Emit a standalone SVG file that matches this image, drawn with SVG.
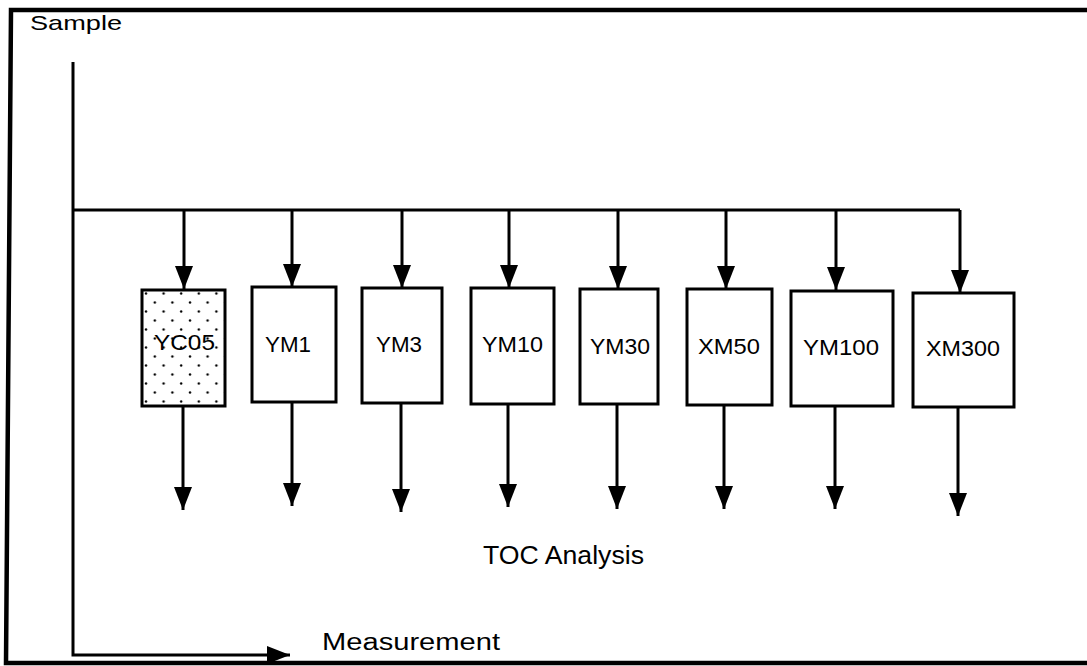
<svg xmlns="http://www.w3.org/2000/svg" width="1087" height="666" viewBox="0 0 1087 666">
<style>
.frame{fill:none;stroke:#000;stroke-width:4.5}
.box{fill:#fff;stroke:#000;stroke-width:3}
.ln{fill:none;stroke:#000;stroke-width:3}
.lbl{font-family:"Liberation Sans",Arial,sans-serif;font-size:22px;fill:#000;text-anchor:middle}
.big{font-family:"Liberation Sans",Arial,sans-serif;fill:#000}
</style>
<defs>
<marker id="ah" markerUnits="userSpaceOnUse" markerWidth="24" markerHeight="20" refX="23" refY="9" orient="auto">
<path d="M0,0 L23,9 L0,18 z" fill="#000"/>
</marker>
<pattern id="dots" patternUnits="userSpaceOnUse" x="142" y="290" width="17.6" height="18">
<circle cx="4" cy="3.5" r="1.2" fill="#000"/>
<circle cx="12.8" cy="12.5" r="1.2" fill="#000"/>
</pattern>
</defs>
<rect width="1087" height="666" fill="#fff"/>
<path class="frame" d="M1087,10 L11,10 L6,663 L1087,663"/>
<text class="big" x="30" y="30" font-size="21" textLength="92" lengthAdjust="spacingAndGlyphs">Sample</text>
<text class="big" x="483" y="564" font-size="26" textLength="161" lengthAdjust="spacingAndGlyphs">TOC Analysis</text>
<text class="big" x="322" y="650" font-size="23" textLength="178" lengthAdjust="spacingAndGlyphs">Measurement</text>
<g id="connectors">
<path class="ln" d="M73,62 L73,655 L290,655" marker-end="url(#ah)"/>
<path class="ln" d="M73,210 L960,210"/>
<path class="ln" d="M184,210 V289" marker-end="url(#ah)"/>
<path class="ln" d="M292,210 V287" marker-end="url(#ah)"/>
<path class="ln" d="M402,210 V288" marker-end="url(#ah)"/>
<path class="ln" d="M509,210 V288" marker-end="url(#ah)"/>
<path class="ln" d="M618,210 V289" marker-end="url(#ah)"/>
<path class="ln" d="M726,210 V289" marker-end="url(#ah)"/>
<path class="ln" d="M836,210 V290" marker-end="url(#ah)"/>
<path class="ln" d="M960,210 V293" marker-end="url(#ah)"/>
<path class="ln" d="M183,406 V510" marker-end="url(#ah)"/>
<path class="ln" d="M292,402 V506" marker-end="url(#ah)"/>
<path class="ln" d="M401,403 V512" marker-end="url(#ah)"/>
<path class="ln" d="M508,404 V507" marker-end="url(#ah)"/>
<path class="ln" d="M617,404 V509" marker-end="url(#ah)"/>
<path class="ln" d="M724,405 V509" marker-end="url(#ah)"/>
<path class="ln" d="M835,406 V509" marker-end="url(#ah)"/>
<path class="ln" d="M958,407 V516" marker-end="url(#ah)"/>
</g>
<g id="YC05">
<rect class="box" x="142" y="290" width="83" height="116"/>
<rect x="143.5" y="291.5" width="80" height="113" fill="url(#dots)"/>
<text class="lbl" x="184.5" y="350" textLength="61" lengthAdjust="spacingAndGlyphs">YC05</text>
</g>
<g id="YM1">
<rect class="box" x="252" y="287" width="84" height="115"/>
<text class="lbl" x="288" y="352" textLength="46" lengthAdjust="spacingAndGlyphs">YM1</text>
</g>
<g id="YM3">
<rect class="box" x="362" y="288" width="80" height="115"/>
<text class="lbl" x="399" y="352" textLength="46" lengthAdjust="spacingAndGlyphs">YM3</text>
</g>
<g id="YM10">
<rect class="box" x="471" y="288" width="83" height="116"/>
<text class="lbl" x="512.5" y="352" textLength="61" lengthAdjust="spacingAndGlyphs">YM10</text>
</g>
<g id="YM30">
<rect class="box" x="580" y="289" width="78" height="115"/>
<text class="lbl" x="620" y="354" textLength="60" lengthAdjust="spacingAndGlyphs">YM30</text>
</g>
<g id="XM50">
<rect class="box" x="687" y="289" width="85" height="116"/>
<text class="lbl" x="729" y="354" textLength="62" lengthAdjust="spacingAndGlyphs">XM50</text>
</g>
<g id="YM100">
<rect class="box" x="791" y="291" width="102" height="115"/>
<text class="lbl" x="841" y="355" textLength="76" lengthAdjust="spacingAndGlyphs">YM100</text>
</g>
<g id="XM300">
<rect class="box" x="913" y="293" width="101" height="114"/>
<text class="lbl" x="963" y="356" textLength="74" lengthAdjust="spacingAndGlyphs">XM300</text>
</g>
</svg>
